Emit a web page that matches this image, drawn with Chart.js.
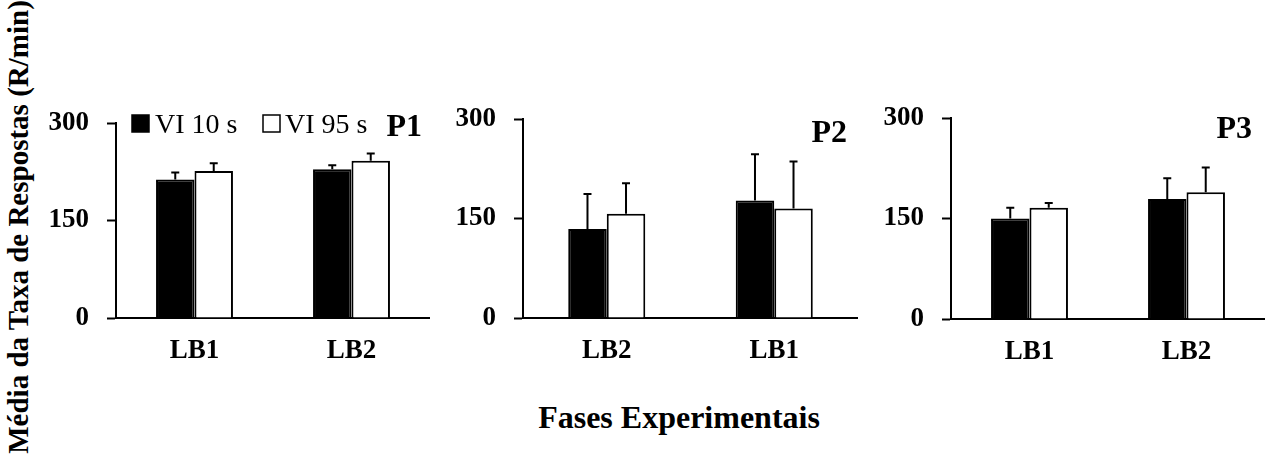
<!DOCTYPE html>
<html>
<head>
<meta charset="utf-8">
<script src="https://cdn.jsdelivr.net/npm/chart.js@4.4.1/dist/chart.umd.min.js"></script>
<style>
body { margin: 0; background: #fff; width: 1266px; height: 461px; position: relative; overflow: hidden; font-family: "Liberation Serif", "Times New Roman", serif; color: #000; }
canvas { position: absolute; top: 0; }
#yTitle { position: absolute; left: 18px; top: 227px; transform: translate(-50%, -50%) rotate(-90deg); white-space: nowrap; font-weight: bold; font-size: 29px; line-height: 1; }
#xTitle { position: absolute; left: 679px; top: 401px; transform: translateX(-50%); white-space: nowrap; font-weight: bold; font-size: 32px; line-height: 1; }
</style>
</head>
<body>
<div id="yTitle">Média da Taxa de Respostas (R/min)</div>
<div id="xTitle">Fases Experimentais</div>
<canvas id="c1"></canvas>
<canvas id="c2"></canvas>
<canvas id="c3"></canvas>
<script>
const fontFamily = '"Liberation Serif", "Times New Roman", serif';

// data
const seriesNames = ["VI 10 s", "VI 95 s"];
const yTicks = [0, 150, 300];

const p1Categories = ["LB1", "LB2"];
const p1Vi10 = [213, 229];
const p1Vi10Err = [11, 6];
const p1Vi95 = [226, 242];
const p1Vi95Err = [12, 11];

const p2Categories = ["LB2", "LB1"];
const p2Vi10 = [134, 177];
const p2Vi10Err = [53, 70];
const p2Vi95 = [157, 165];
const p2Vi95Err = [46, 71];

const p3Categories = ["LB1", "LB2"];
const p3Vi10 = [150, 179];
const p3Vi10Err = [16, 31];
const p3Vi95 = [166, 189];
const p3Vi95Err = [7, 37];

const Y_AXIS_W = 80;
const X_AXIS_H = 60;

const panels = [
    { id: "c1", tag: "P1", labels: p1Categories, a: p1Vi10, aErr: p1Vi10Err, b: p1Vi95, bErr: p1Vi95Err,
      area: { left: 116, right: 430, top: 123, bottom: 318 }, catPct: 0.49, tagDx: 8, tagDy: 13, legend: true },
    { id: "c2", tag: "P2", labels: p2Categories, a: p2Vi10, aErr: p2Vi10Err, b: p2Vi95, bErr: p2Vi95Err,
      area: { left: 523, right: 858, top: 119, bottom: 318 }, catPct: 0.46, tagDx: 11, tagDy: 23, legend: false },
    { id: "c3", tag: "P3", labels: p3Categories, a: p3Vi10, aErr: p3Vi10Err, b: p3Vi95, bErr: p3Vi95Err,
      area: { left: 951, right: 1265, top: 118, bottom: 319 }, catPct: 0.49, tagDx: 13, tagDy: 20, legend: false }
];

// upward error bars from the bar top
const errorBars = {
    id: "errorBars",
    afterDatasetsDraw(chart) {
        const ctx = chart.ctx;
        const yScale = chart.scales.y;
        ctx.save();
        ctx.strokeStyle = "#000";
        ctx.lineWidth = 2;
        chart.data.datasets.forEach((ds, i) => {
            chart.getDatasetMeta(i).data.forEach((bar, j) => {
                const top = yScale.getPixelForValue(ds.data[j] + ds.errors[j]);
                ctx.beginPath();
                ctx.moveTo(bar.x, bar.y);
                ctx.lineTo(bar.x, top);
                ctx.moveTo(bar.x - 4, top);
                ctx.lineTo(bar.x + 4, top);
                ctx.stroke();
            });
        });
        ctx.restore();
    }
};

// panel name and the small legend of panel 1
const panelTag = {
    id: "panelTag",
    afterDraw(chart, args, opts) {
        const ctx = chart.ctx;
        const area = chart.chartArea;
        ctx.save();
        ctx.fillStyle = "#000";
        ctx.textBaseline = "alphabetic";
        ctx.font = "bold 32px " + fontFamily;
        ctx.textAlign = "right";
        ctx.fillText(opts.text, area.right - opts.dx, area.top + opts.dy);
        if (opts.legend) {
            const boxX = [16, 147];
            const textX = [39, 169];
            ctx.font = "28px " + fontFamily;
            ctx.textAlign = "left";
            chart.data.datasets.forEach((ds, i) => {
                ctx.fillStyle = ds.backgroundColor;
                ctx.fillRect(area.left + boxX[i], area.top - 8, 17, 17);
                ctx.strokeStyle = "#000";
                ctx.lineWidth = 1.5;
                ctx.strokeRect(area.left + boxX[i], area.top - 8, 17, 17);
                ctx.fillStyle = "#000";
                ctx.fillText(ds.label, area.left + textX[i], area.top + 10);
            });
        }
        ctx.restore();
    }
};

panels.forEach(p => {
    const canvas = document.getElementById(p.id);
    const left = p.area.left - Y_AXIS_W;
    const width = p.area.right - left;
    const height = p.area.bottom + X_AXIS_H;
    canvas.width = width;
    canvas.height = height;
    canvas.style.left = left + "px";
    canvas.style.width = width + "px";
    canvas.style.height = height + "px";

    new Chart(canvas, {
        type: "bar",
        data: {
            labels: p.labels,
            datasets: [
                { label: seriesNames[0], data: p.a, errors: p.aErr, backgroundColor: "#000", borderColor: "#000", borderWidth: 2 },
                { label: seriesNames[1], data: p.b, errors: p.bErr, backgroundColor: "#fff", borderColor: "#000", borderWidth: 2 }
            ]
        },
        options: {
            responsive: false,
            animation: false,
            devicePixelRatio: 1,
            layout: { padding: { top: p.area.top, left: 0, right: 0, bottom: 0 } },
            datasets: { bar: { categoryPercentage: p.catPct, barPercentage: 1 } },
            plugins: {
                legend: { display: false },
                tooltip: { enabled: false },
                panelTag: { text: p.tag, dx: p.tagDx, dy: p.tagDy, legend: p.legend }
            },
            scales: {
                x: {
                    grid: { display: false, drawTicks: false },
                    border: { display: true, color: "#000", width: 2 },
                    ticks: { color: "#000", padding: 17, font: { family: fontFamily, size: 27, weight: "bold" } },
                    afterFit: s => { s.height = X_AXIS_H; }
                },
                y: {
                    min: 0,
                    max: 300,
                    afterBuildTicks: s => { s.ticks = yTicks.map(v => ({ value: v })); },
                    grid: { display: true, drawOnChartArea: false, drawTicks: true, tickLength: 9, tickWidth: 2, tickColor: "#000" },
                    border: { display: true, color: "#000", width: 2 },
                    ticks: { color: "#000", padding: 18, font: { family: fontFamily, size: 27, weight: "bold" } },
                    afterFit: s => { s.width = Y_AXIS_W; }
                }
            }
        },
        plugins: [errorBars, panelTag]
    });
});
</script>
</body>
</html>
